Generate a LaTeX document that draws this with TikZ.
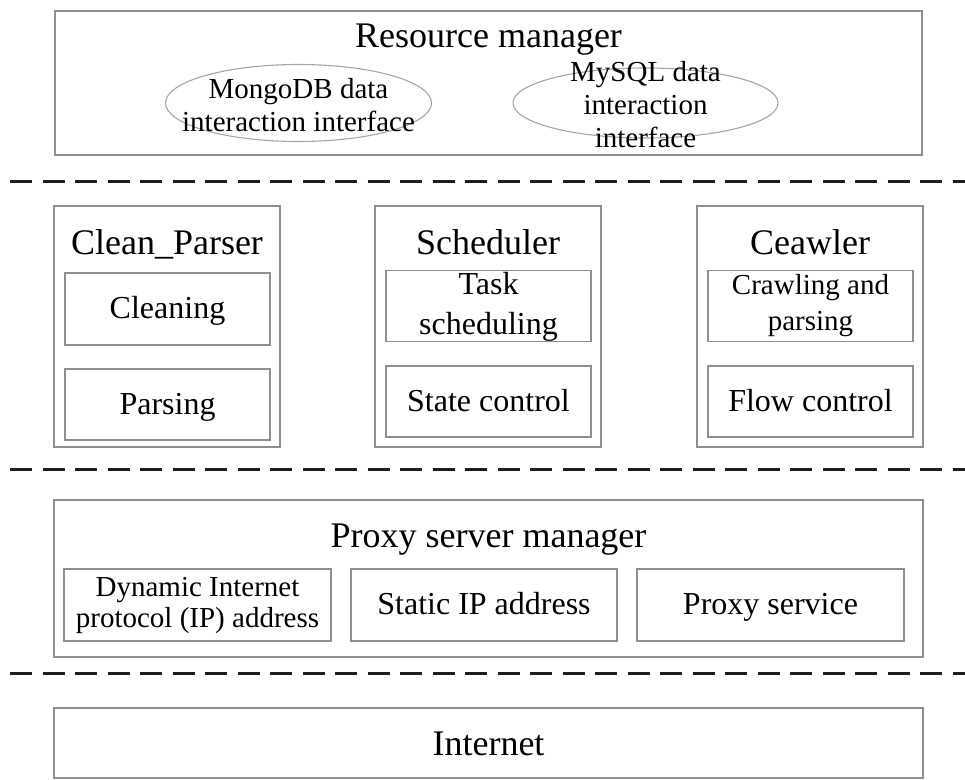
\documentclass[tikz,border=0pt]{standalone}
\usepackage{fontspec}
\setmainfont{Liberation Serif}
\usetikzlibrary{shapes.geometric}

\definecolor{framegray}{HTML}{8F8F8F}
\definecolor{rulegray}{HTML}{1E1E1E}

\newcommand{\headfont}{\fontsize{36bp}{43bp}\selectfont}
\newcommand{\itemfont}{\fontsize{32bp}{40bp}\selectfont}
\newcommand{\smallitemfont}{\fontsize{29bp}{33bp}\selectfont}

\tikzset{
  panel/.style={draw=framegray, line width=1.6bp, rectangle, inner sep=0pt, outer sep=0pt},
  subbox/.style={panel, minimum width=205bp, minimum height=71bp, align=center, font=\itemfont},
  oneline/.style={text height=23bp, text depth=4bp},
  column/.style={panel, minimum width=226bp, minimum height=241bp},
  title/.style={inner sep=0pt, font=\headfont, text height=28bp, text depth=3bp},
  iface/.style={draw=framegray!80, line width=1.1bp, ellipse, inner sep=0pt},
  iftext/.style={inner sep=0pt, align=center, font=\smallitemfont},
  layerline/.style={draw=rulegray, line width=3bp, dash pattern=on 22bp off 10.5bp}
}

\begin{document}
\begin{tikzpicture}[x=1bp, y=-1bp]
  \useasboundingbox (0,0) rectangle (965,780);

  % resource manager layer
  \node[panel, minimum width=867bp, minimum height=144bp] (rm) at (488.5,83) {};
  \node[title] (rmtitle) at (488.5,35) {Resource manager};
  \node[iface, minimum width=266bp, minimum height=77bp] (mongo) at (298.5,103) {};
  \node[iftext] (mongotext) at (298.5,105) {MongoDB data\\interaction interface};
  \node[iface, minimum width=265bp, minimum height=70bp] (mysql) at (645.5,103) {};
  \node[iftext] (mysqltext) at (645.5,105) {MySQL data\\interaction\\interface};

  % separator lines between layers
  \coordinate (s1a) at (10,181);  \coordinate (s1b) at (965,181);
  \coordinate (s2a) at (10,469);  \coordinate (s2b) at (965,469);
  \coordinate (s3a) at (10,673);  \coordinate (s3b) at (965,673);
  \draw[layerline] (s1a) -- (s1b);
  \draw[layerline] (s2a) -- (s2b);
  \draw[layerline] (s3a) -- (s3b);

  % processing layer: three modules
  \node[column] (cp) at (167,326.5) {};
  \node[title] (cptitle) at (167,242) {Clean\_Parser};
  \node[subbox, minimum height=72bp] (clean) at (167.5,309) {};
  \node[oneline, inner sep=0pt, font=\itemfont] (cleantext) at (167.5,309) {Cleaning};
  \node[subbox] (parse) at (167.5,404.5) {};
  \node[oneline, inner sep=0pt, font=\itemfont] (parsetext) at (167.5,404.5) {Parsing};

  \node[column] (sch) at (488,326.5) {};
  \node[title] (schtitle) at (488,242) {Scheduler};
  \node[subbox] (task) at (488.5,306) {};
  \node[inner sep=0pt, align=center, font=\itemfont] (tasktext) at (488.5,307) {Task\\scheduling};
  \node[subbox] (state) at (488.5,401.5) {};
  \node[oneline, inner sep=0pt, font=\itemfont] (statetext) at (488.5,401.5) {State control};

  \node[column] (cra) at (810,326.5) {};
  \node[title] (cratitle) at (810,242) {Ceawler};
  \node[subbox] (crawl) at (810.5,306) {};
  \node[iftext, font=\fontsize{29bp}{36bp}\selectfont] (crawltext) at (810.5,306) {Crawling and\\parsing};
  \node[subbox] (flow) at (810.5,401.5) {};
  \node[oneline, inner sep=0pt, font=\itemfont] (flowtext) at (810.5,401.5) {Flow control};

  % proxy layer
  \node[panel, minimum width=869bp, minimum height=157bp] (proxy) at (488.5,578.5) {};
  \node[title] (proxytitle) at (488.5,535) {Proxy server manager};
  \node[subbox, minimum width=267bp, minimum height=72bp] (dyn) at (197.5,605) {};
  \node[iftext, font=\fontsize{29bp}{31bp}\selectfont] (dyntext) at (197.5,605) {Dynamic Internet\\protocol (IP) address};
  \node[subbox, minimum width=266bp, minimum height=72bp] (static) at (484,605) {};
  \node[oneline, inner sep=0pt, font=\itemfont] (statictext) at (484,605) {Static IP address};
  \node[subbox, minimum width=267bp, minimum height=72bp] (service) at (770.5,605) {};
  \node[oneline, inner sep=0pt, font=\itemfont] (servicetext) at (770.5,605) {Proxy service};

  % network layer
  \node[panel, minimum width=869bp, minimum height=70bp] (net) at (488.5,743) {};
  \node[title] (nettext) at (488.5,743) {Internet};
\end{tikzpicture}
\end{document}
